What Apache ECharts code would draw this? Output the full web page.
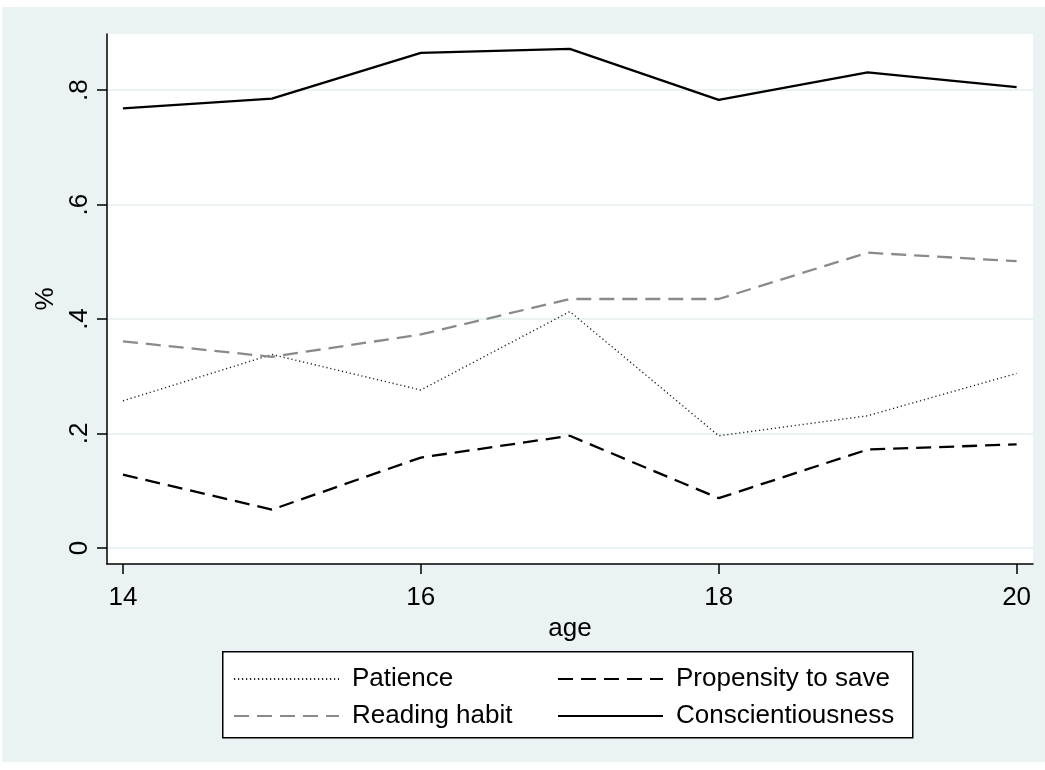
<!DOCTYPE html>
<html><head><meta charset="utf-8">
<script src="https://cdn.jsdelivr.net/npm/echarts@6/dist/echarts.min.js"></script>
<style>
html,body{margin:0;padding:0;background:#ffffff;}
#bg{position:absolute;left:2px;top:7px;width:1043px;height:755px;background:#eaf2f3;}
#chart{position:absolute;left:0;top:0;width:1045px;height:770px;}
</style></head>
<body><div id="bg"></div><div id="chart"></div>
<script>
const ages = [14, 15, 16, 17, 18, 19, 20];
const patience = [0.257, 0.338, 0.276, 0.413, 0.196, 0.231, 0.305];
const propensity = [0.128, 0.067, 0.158, 0.196, 0.087, 0.172, 0.181];
const reading = [0.361, 0.334, 0.373, 0.435, 0.435, 0.516, 0.501];
const conscientiousness = [0.768, 0.785, 0.865, 0.872, 0.783, 0.831, 0.805];
const yTicks = [0, 0.2, 0.4, 0.6, 0.8];
const yTickLabels = ['0', '.2', '.4', '.6', '.8'];
const xTicks = [14, 16, 18, 20];
const seriesNames = ['Patience', 'Propensity to save', 'Reading habit', 'Conscientiousness'];

const FONT = '"Liberation Sans", Arial, sans-serif';
const chart = echarts.init(document.getElementById('chart'), null, {renderer: 'canvas'});
const pairs = arr => ages.map((a, i) => [a, arr[i]]);

const legendCommon = {
  orient: 'vertical', top: 666, padding: 0,
  itemWidth: 105, itemHeight: 14, itemGap: 11, z: 10,
  itemStyle: {opacity: 0},
  textStyle: {fontSize: 26, color: '#000', lineHeight: 26, fontFamily: FONT, padding: [0, 0, 0, 8]}
};

const option = {
  backgroundColor: 'transparent',
  animation: false,
  textStyle: {fontFamily: FONT},
  grid: {left: 107, right: 12, top: 34, bottom: 206, show: true, backgroundColor: '#ffffff', borderWidth: 0},
  xAxis: {
    type: 'value', min: 13.893, max: 20.11,
    name: 'age', nameLocation: 'middle', nameGap: 43,
    nameTextStyle: {fontSize: 26, color: '#000', fontFamily: FONT},
    axisLine: {show: true, onZero: false, lineStyle: {color: '#000', width: 1.5}},
    axisTick: {show: true, length: 10, lineStyle: {color: '#000', width: 1.5}, customValues: xTicks},
    axisLabel: {customValues: xTicks, fontSize: 26, color: '#000', margin: 21, fontFamily: FONT},
    splitLine: {show: false}
  },
  yAxis: {
    type: 'value', min: -0.028, max: 0.898,
    name: '%', nameLocation: 'middle', nameGap: 44, nameRotate: 90,
    nameTextStyle: {fontSize: 26, color: '#000', fontFamily: FONT},
    axisLine: {show: true, onZero: false, lineStyle: {color: '#000', width: 1.5}},
    axisTick: {show: true, length: 10, lineStyle: {color: '#000', width: 1.5}, customValues: yTicks},
    axisLabel: {
      customValues: yTicks, rotate: 90, fontSize: 26, color: '#000', margin: 14, fontFamily: FONT,
      formatter: v => { const i = yTicks.findIndex(t => Math.abs(t - v) < 1e-6); return i >= 0 ? yTickLabels[i] : ''; }
    },
    splitLine: {show: true, lineStyle: {color: '#eaf2f3', width: 2}}
  },
  legend: [
    Object.assign({}, legendCommon, {data: [seriesNames[0], seriesNames[2]], left: 233}),
    Object.assign({}, legendCommon, {data: [seriesNames[1], seriesNames[3]], left: 557})
  ],
  graphic: [{
    type: 'rect', left: 222, top: 651, z: 1,
    shape: {width: 690, height: 86},
    style: {fill: '#ffffff', stroke: '#000', lineWidth: 1.5}
  }],
  series: [
    {name: seriesNames[0], type: 'line', data: pairs(patience), symbol: 'none',
     lineStyle: {color: '#222', width: 1.4, type: [1.2, 2.8]}, itemStyle: {color: '#222'}},
    {name: seriesNames[2], type: 'line', data: pairs(reading), symbol: 'none',
     lineStyle: {color: '#8a8a8a', width: 2.3, type: [15, 8]}, itemStyle: {color: '#8a8a8a'}},
    {name: seriesNames[1], type: 'line', data: pairs(propensity), symbol: 'none',
     lineStyle: {color: '#000', width: 2.3, type: [15, 8]}, itemStyle: {color: '#000'}},
    {name: seriesNames[3], type: 'line', data: pairs(conscientiousness), symbol: 'none',
     lineStyle: {color: '#000', width: 2.3, type: 'solid'}, itemStyle: {color: '#000'}}
  ]
};
chart.setOption(option);
</script>
</body></html>
